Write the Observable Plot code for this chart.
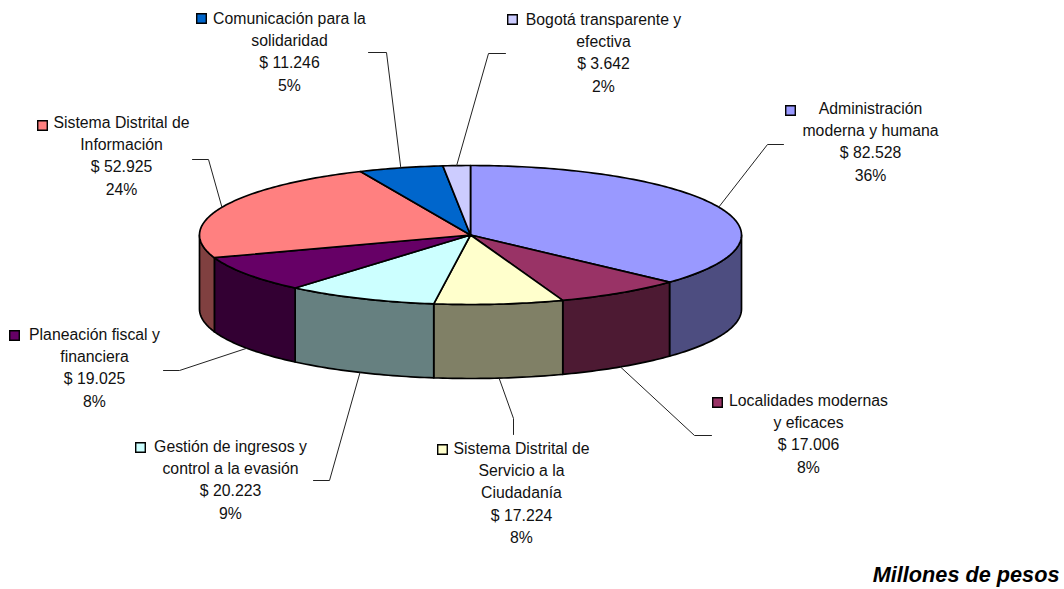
<!DOCTYPE html>
<html>
<head>
<meta charset="utf-8">
<script src="https://cdn.jsdelivr.net/npm/d3@7"></script>
<script src="https://cdn.jsdelivr.net/npm/@observablehq/plot@0.6"></script>
<style>
html,body{margin:0;padding:0;background:#fff}
svg{display:block}
</style>
</head>
<body>
<div id="chart"></div>
<script>
// --- data
const names = [
  ["Administración", "moderna y humana"],
  ["Localidades modernas", "y eficaces"],
  ["Sistema Distrital de", "Servicio a la", "Ciudadanía"],
  ["Gestión de ingresos y", "control a la evasión"],
  ["Planeación fiscal y", "financiera"],
  ["Sistema Distrital de", "Información"],
  ["Comunicación para la", "solidaridad"],
  ["Bogotá transparente y", "efectiva"]
];
const values = [82528, 17006, 17224, 20223, 19025, 52925, 11246, 3642];
const percents = [36, 8, 8, 9, 8, 24, 5, 2];
const unitNote = "Millones de pesos";

// --- styles
const topColors = ["#9999FF", "#993366", "#FFFFCC", "#CCFFFF", "#660066", "#FF8080", "#0066CC", "#CCCCFF"];
const sideColors = ["#4D4D80", "#4D1A33", "#808066", "#668080", "#330033", "#804040", "#003366", "#666680"];

// --- layout
const W = 1064, H = 589;
const pie = {cx: 470, cy: 234.5, rx: 271, ry: 69.5, depth: 74};
// label centre x, first-line y, key x, key y, leader elbow and end
const labelX = [870, 808, 521, 230, 94, 121, 289, 603];
const labelY = [108, 400, 448, 446, 334, 122, 18, 19];
const keyX = [790, 717, 442, 140, 14, 42, 201, 512];
const keyY = [110, 402, 449, 447, 335, 125, 18, 19];
const elbowX = [767, 694, 513, 329, 179, 208, 386, 488];
const elbowY = [144, 435, 418, 480, 370, 159, 52, 53];
const endX = [783, 711, 513, 313, 163, 192, 368, 505];
const endY = [144, 435, 434, 480, 370, 159, 52, 53];
const lineStep = 22.4;
const fontSize = 15.8;

// --- geometry derived from values
const total = d3.sum(values);
const angles = [];
values.reduce((acc, v) => { angles.push([acc, acc + v / total * 360]); return acc + v / total * 360; }, 0);
const rad = d => d * Math.PI / 180;
const pt = (deg, dz = 0) => ({x: pie.cx + pie.rx * Math.sin(rad(deg)), y: pie.cy - pie.ry * Math.cos(rad(deg)) + dz});
const arc = (a, b, dz = 0) => {
  const n = Math.max(1, Math.ceil((b - a) / 1));
  return d3.range(n + 1).map(i => pt(a + (b - a) * i / n, dz));
};
const close = p => [...p, p[0]];

const marks = [];
// side walls: visible on the front half only
angles.forEach(([a, b], i) => {
  const a2 = Math.max(a, 90), b2 = Math.min(b, 270);
  if (a2 >= b2) return;
  const poly = close([...arc(a2, b2), ...arc(a2, b2, pie.depth).reverse()]);
  marks.push(Plot.line(poly, {x: "x", y: "y", fill: sideColors[i], stroke: "#000", strokeWidth: 1.7, strokeLinejoin: "round", curve: "linear"}));
});
// top slices
angles.forEach(([a, b], i) => {
  const poly = close([{x: pie.cx, y: pie.cy}, ...arc(a, b)]);
  marks.push(Plot.line(poly, {x: "x", y: "y", fill: topColors[i], stroke: "#000", strokeWidth: 1.7, strokeLinejoin: "round", curve: "linear"}));
});
// leader lines start at slice mid-angle
angles.forEach(([a, b], i) => {
  const m = (a + b) / 2;
  const front = m > 90 && m < 270;
  const s = pt(m, front ? pie.depth : 0);
  const path = [s, {x: elbowX[i], y: elbowY[i]}, {x: endX[i], y: endY[i]}];
  marks.push(Plot.line(path, {x: "x", y: "y", stroke: "#222", strokeWidth: 1, curve: "linear"}));
});
// labels
const fmt = d3.formatLocale({decimal: ",", thousands: ".", grouping: [3], currency: ["$ ", ""]}).format(",d");
const labelRows = names.flatMap((lines, i) =>
  [...lines, "$ " + fmt(values[i]), percents[i] + "%"].map((t, k) => ({t, x: labelX[i], y: labelY[i] + k * lineStep}))
);
marks.push(Plot.text(labelRows, {x: "x", y: "y", text: "t", textAnchor: "middle", lineAnchor: "middle", fontSize, fontFamily: "Liberation Sans", fill: "#111"}));
// legend keys
marks.push(Plot.dot(names.map((_, i) => ({x: keyX[i], y: keyY[i], c: topColors[i]})), {x: "x", y: "y", fill: d => d.c, symbol: "square", r: 5.4, stroke: "#000", strokeWidth: 1.4}));
// unit note
marks.push(Plot.text([unitNote], {x: () => 1059, y: () => 575, text: d => d, textAnchor: "end", lineAnchor: "middle", fontSize: 21.7, fontWeight: "bold", fontStyle: "italic", fontFamily: "Liberation Sans", fill: "#000"}));

const chart = Plot.plot({
  width: W, height: H,
  margin: 0,
  x: {domain: [0, W], range: [0, W], axis: null},
  y: {domain: [0, H], range: [0, H], axis: null},
  style: {background: "#fff"},
  marks
});
document.getElementById("chart").appendChild(chart);
</script>
</body>
</html>
